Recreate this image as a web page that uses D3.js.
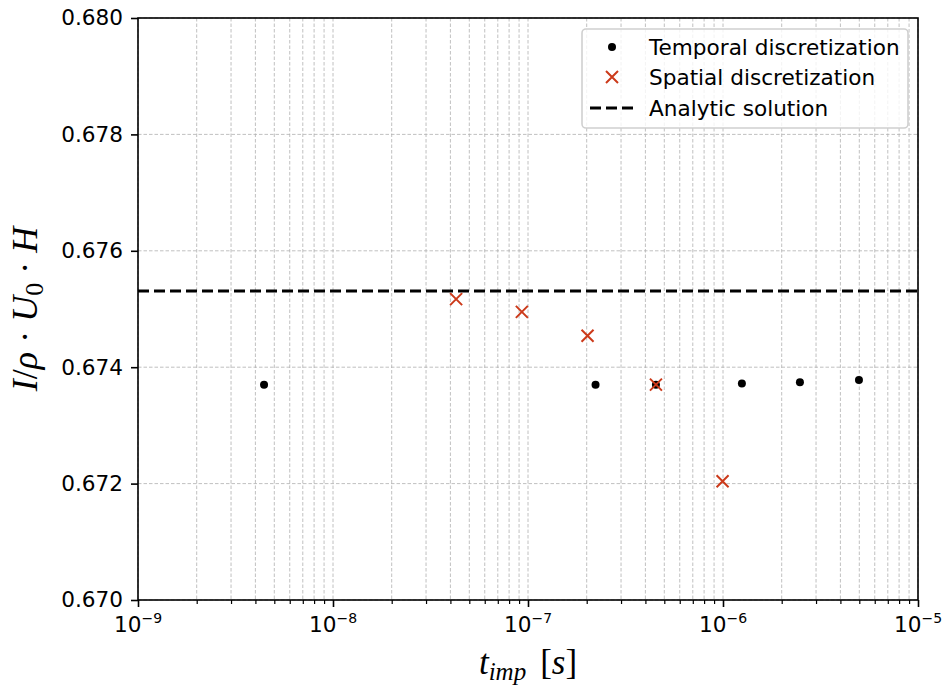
<!DOCTYPE html>
<html><head><meta charset="utf-8">
<script src="https://cdn.jsdelivr.net/npm/d3@7"></script>
<style>body{margin:0;background:#fff}svg{display:block;font-family:"DejaVu Sans",sans-serif}</style>
</head><body><svg id="c" width="943" height="687"></svg>
<script>
const temporalX = [4.43e-9, 2.22e-7, 4.53e-7, 1.25e-6, 2.48e-6, 4.98e-6];
const temporalY = [0.67370, 0.67370, 0.67370, 0.67372, 0.67374, 0.67378];
const spatialX = [4.28e-8, 9.3e-8, 2.02e-7, 4.53e-7, 9.95e-7];
const spatialY = [0.67517, 0.67495, 0.67454, 0.67370, 0.67204];
const analyticY = 0.67531;
const yTicks = [0.670, 0.672, 0.674, 0.676, 0.678, 0.680];
const xDecades = [-9, -8, -7, -6, -5];
const legendLabels = ["Temporal discretization", "Spatial discretization", "Analytic solution"];

const L = 138, R = 918, T = 18, B = 600;
const FS = 21.6;
const serif = "'Liberation Serif', 'DejaVu Serif', serif";
const svg = d3.select("#c");
const x = d3.scaleLog().domain([1e-9, 1e-5]).range([L, R]);
const y = d3.scaleLinear().domain([0.670, 0.680]).range([B, T]);
const red = "#cc3a1a";
const gridC = "#b0b0b0";

const minor = [];
for (let d = -9; d < -5; d++) for (let k = 2; k <= 9; k++) minor.push(k * Math.pow(10, d));
const major = xDecades.map(d => Math.pow(10, d));

const grid = svg.append("g");
grid.selectAll(".xm").data(minor.concat(major)).join("line")
  .attr("x1", d => x(d)).attr("x2", d => x(d)).attr("y1", T).attr("y2", B)
  .attr("stroke", gridC).attr("stroke-width", 0.8).attr("stroke-dasharray", "3.5,2");
grid.selectAll(".yM").data(yTicks).join("line")
  .attr("x1", L).attr("x2", R).attr("y1", d => y(d)).attr("y2", d => y(d))
  .attr("stroke", gridC).attr("stroke-width", 0.8).attr("stroke-dasharray", "3.5,2");

svg.append("line").attr("x1", L).attr("x2", R).attr("y1", y(analyticY)).attr("y2", y(analyticY))
  .attr("stroke", "#000").attr("stroke-width", 3).attr("stroke-dasharray", "11,5");

svg.selectAll(".dot").data(temporalX).join("circle")
  .attr("cx", d => x(d)).attr("cy", (d, i) => y(temporalY[i])).attr("r", 4).attr("fill", "#000");

const cs = 6;
const crossPath = (cx, cy) => `M${cx-cs},${cy-cs}L${cx+cs},${cy+cs}M${cx-cs},${cy+cs}L${cx+cs},${cy-cs}`;
svg.selectAll(".cr").data(spatialX).join("path")
  .attr("d", (d, i) => crossPath(x(d), y(spatialY[i])))
  .attr("stroke", red).attr("stroke-width", 2).attr("fill", "none");

const xAxis = d3.axisBottom(x).tickValues(major).tickSize(7).tickFormat(() => "");
const gx = svg.append("g").attr("transform", `translate(0,${B})`).call(xAxis);
gx.select(".domain").remove();
gx.selectAll("line").attr("stroke-width", 1.6);
const xMinorAxis = d3.axisBottom(x).tickValues(minor).tickSize(4).tickFormat(() => "");
const gxm = svg.append("g").attr("transform", `translate(0,${B})`).call(xMinorAxis);
gxm.select(".domain").remove();
gxm.selectAll("line").attr("stroke-width", 1.2);

xDecades.forEach(d => {
  const t = svg.append("text").attr("x", x(Math.pow(10, d))).attr("y", 632)
    .attr("text-anchor", "middle").style("font-size", FS + "px").attr("fill", "#000");
  t.append("tspan").text("10");
  t.append("tspan").attr("dy", -9).style("font-size", "14px").text("\u2212" + Math.abs(d));
});

const yAxis = d3.axisLeft(y).tickValues(yTicks).tickSize(7).tickPadding(8).tickFormat(d3.format(".3f"));
const gy = svg.append("g").attr("transform", `translate(${L},0)`).call(yAxis);
gy.select(".domain").remove();
gy.selectAll("line").attr("stroke-width", 1.6);
gy.selectAll("text").style("font-size", FS + "px").style("font-family", "'DejaVu Sans'").attr("fill", "#000");

svg.append("rect").attr("x", L).attr("y", T).attr("width", R - L).attr("height", B - T)
  .attr("fill", "none").attr("stroke", "#000").attr("stroke-width", 1.6);

const xl = svg.append("text").attr("x", (L + R) / 2).attr("y", 674).attr("text-anchor", "middle")
  .style("font-family", serif).style("font-size", "35px").attr("fill", "#000");
xl.append("tspan").style("font-style", "italic").text("t");
xl.append("tspan").style("font-style", "italic").style("font-size", "25px").attr("dy", 6).text("imp");
xl.append("tspan").attr("dy", -6).text("\u2009\u2009[");
xl.append("tspan").style("font-style", "italic").text("s");
xl.append("tspan").text("]");

const yl = svg.append("text").attr("transform", `translate(37,${(T + B) / 2}) rotate(-90)`)
  .attr("text-anchor", "middle").style("font-family", serif)
  .style("font-size", "36px").attr("fill", "#000");
yl.append("tspan").style("font-style", "italic").text("I");
yl.append("tspan").text("/");
yl.append("tspan").style("font-style", "italic").text("\u03C1");
yl.append("tspan").text(" \u00B7 ");
yl.append("tspan").style("font-style", "italic").text("U");
yl.append("tspan").style("font-size", "26px").attr("dy", 6).text("0");
yl.append("tspan").attr("dy", -6).text(" \u00B7 ");
yl.append("tspan").style("font-style", "italic").text("H");

const lg = svg.append("g");
lg.append("rect").attr("x", 582).attr("y", 29).attr("width", 326).attr("height", 99).attr("rx", 4)
  .attr("fill", "#fff").attr("fill-opacity", 0.8).attr("stroke", "#d0d0d0").attr("stroke-width", 1.6);
const rows = [47, 77, 108];
lg.append("circle").attr("cx", 612).attr("cy", rows[0]).attr("r", 4).attr("fill", "#000");
lg.append("path").attr("d", crossPath(612, rows[1])).attr("stroke", red).attr("stroke-width", 2);
lg.append("line").attr("x1", 590).attr("x2", 634).attr("y1", rows[2]).attr("y2", rows[2])
  .attr("stroke", "#000").attr("stroke-width", 3).attr("stroke-dasharray", "11,5");
lg.selectAll(".lt").data(legendLabels).join("text")
  .attr("x", 649).attr("y", (d, i) => rows[i] + 8).style("font-size", FS + "px").attr("fill", "#000").text(d => d);
</script></body></html>
